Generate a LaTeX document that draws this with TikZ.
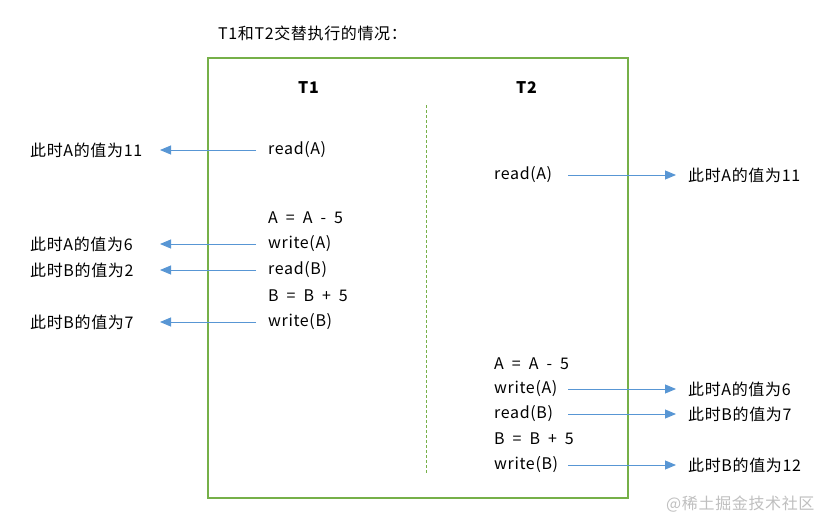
\documentclass[tikz,border=0pt]{standalone}
\usepackage{fontspec}
\setmainfont{Noto Sans CJK SC}[LetterSpace=4]
\usetikzlibrary{arrows.meta,positioning}

\definecolor{boxgreen}{RGB}{118,176,72}
\definecolor{arrblue}{RGB}{88,150,212}

\newcommand{\gap}{\enspace}

\tikzset{
  op/.style={anchor=west, inner sep=0pt, font=\fontsize{16}{18}\selectfont},
  val/.style={anchor=west, inner sep=0pt, font=\fontsize{16}{18}\selectfont},
  flow/.style={arrblue, line width=0.9pt, -{Triangle[length=11pt,width=9pt]}},
}

\begin{document}
\begin{tikzpicture}[x=1pt,y=-1pt]
  \useasboundingbox (0,0) rectangle (838,530);

  % title and frame
  \node[op] (title) at (218,33) {T1和T2交替执行的情况：};
  \draw[boxgreen, line width=1.8pt] (208,58) rectangle (628,498);
  \draw[boxgreen, densely dashed, line width=0.7pt] (426,105) -- (426,474);
  \node[op, font=\fontsize{16}{18}\selectfont\bfseries] (t1) at (298,88) {T1};
  \node[op, font=\fontsize{16}{18}\selectfont\bfseries] (t2) at (516,88) {T2};

  % arrow ends
  \coordinate (ltip) at (160,0);
  \coordinate (rstart) at (568,0);
  \coordinate (rtip) at (676,0);

  % T1 steps
  \node[op] (ra1) at (268,150) {read(A)};
  \node[op] (ca1) at (268,218) {A\gap=\gap A\gap-\gap 5};
  \node[op] (wa1) at (268,244) {write(A)};
  \node[op] (rb1) at (268,270) {read(B)};
  \node[op] (cb1) at (268,296) {B\gap=\gap B\gap+\gap 5};
  \node[op] (wb1) at (268,322) {write(B)};

  % values seen by T1
  \node[val] (v1) at (30,150) {此时A的值为11};
  \node[val] (v2) at (30,244) {此时A的值为6};
  \node[val] (v3) at (30,270) {此时B的值为2};
  \node[val] (v4) at (30,322) {此时B的值为7};

  \draw[flow] ([xshift=-12pt]ra1.west) -- (ra1.west -| ltip);
  \draw[flow] ([xshift=-12pt]wa1.west) -- (wa1.west -| ltip);
  \draw[flow] ([xshift=-12pt]rb1.west) -- (rb1.west -| ltip);
  \draw[flow] ([xshift=-12pt]wb1.west) -- (wb1.west -| ltip);

  % T2 steps
  \node[op] (ra2) at (494,175) {read(A)};
  \node[op] (ca2) at (494,364) {A\gap=\gap A\gap-\gap 5};
  \node[op] (wa2) at (494,389) {write(A)};
  \node[op] (rb2) at (494,414) {read(B)};
  \node[op] (cb2) at (494,439) {B\gap=\gap B\gap+\gap 5};
  \node[op] (wb2) at (494,465) {write(B)};

  % values seen by T2
  \node[val] (u1) at (688,175) {此时A的值为11};
  \node[val] (u2) at (688,389) {此时A的值为6};
  \node[val] (u3) at (688,414) {此时B的值为7};
  \node[val] (u4) at (688,465) {此时B的值为12};

  \draw[flow] (ra2.west -| rstart) -- (u1.west -| rtip);
  \draw[flow] (wa2.west -| rstart) -- (u2.west -| rtip);
  \draw[flow] (rb2.west -| rstart) -- (u3.west -| rtip);
  \draw[flow] (wb2.west -| rstart) -- (u4.west -| rtip);

  % watermark
  \node[val, text=black!25] (wm) at (666,504) {@稀土掘金技术社区};
\end{tikzpicture}
\end{document}
